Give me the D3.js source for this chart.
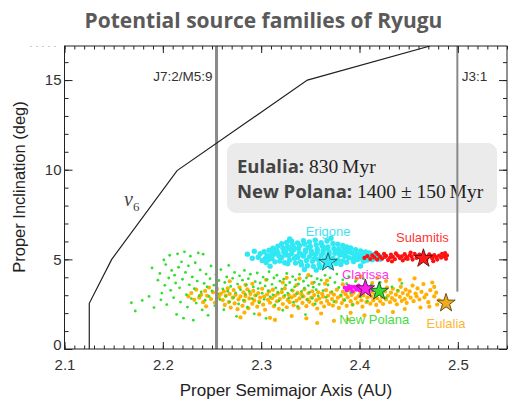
<!DOCTYPE html>
<html>
<head>
<meta charset="utf-8">
<script src="https://cdn.jsdelivr.net/npm/d3@7"></script>
<style>
  body { margin: 0; background: #fff; }
  svg { display: block; }
  .axis path { display: none; }
  .axis line { stroke: #222; }
  .axis text { font-family: "Liberation Sans", Arial, sans-serif; font-size: 15px; fill: #333; }
  .lbl { font-family: "Liberation Sans", Arial, sans-serif; font-size: 13px; text-anchor: middle; }
</style>
</head>
<body>
<div id="chart"></div>
<script>
/* canvas size */
var width = 525,
    height = 400;

/* axis ticks */
var xTicks = [2.1, 2.2, 2.3, 2.4, 2.5];
var yTicks = [0, 5, 10, 15];

/* secular resonance nu6 (a, i) */
var nu6 = [[2.1252, 0], [2.1252, 2.55], [2.148, 5.0], [2.2145, 9.95], [2.347, 15.0], [2.4718, 16.9]];

/* mean motion resonances */
var j72 = 2.2546;
var j31 = 2.4995, j31Bottom = 3.2;

/* family members, [a (AU), i (deg)] */
var erigone = [[2.297,5.12],[2.299,5.31],[2.301,4.93],[2.303,5.42],[2.304,5.03],[2.306,5.22],[2.305,4.82],[2.308,5.51],[2.309,5.16],[2.307,4.97],[2.311,5.37],[2.312,5.62],[2.313,5.28],[2.311,5.04],[2.314,4.86],[2.316,5.47],[2.317,5.74],[2.315,5.52],[2.318,5.19],[2.319,4.91],[2.317,5.36],[2.320,5.07],[2.321,5.88],[2.322,5.63],[2.323,5.41],[2.321,5.12],[2.324,4.81],[2.325,5.26],[2.326,5.94],[2.327,5.71],[2.325,5.47],[2.328,5.21],[2.329,4.96],[2.327,4.76],[2.330,5.57],[2.331,6.01],[2.332,5.81],[2.333,5.54],[2.331,5.31],[2.334,5.06],[2.335,4.79],[2.333,5.66],[2.336,5.16],[2.337,5.92],[2.338,5.61],[2.339,5.36],[2.337,5.11],[2.340,4.86],[2.341,4.69],[2.339,5.77],[2.342,5.24],[2.343,6.04],[2.344,5.86],[2.345,5.51],[2.343,5.19],[2.346,4.94],[2.347,4.64],[2.345,5.41],[2.348,5.67],[2.349,5.97],[2.350,5.72],[2.351,5.46],[2.349,5.14],[2.352,4.89],[2.353,4.61],[2.351,5.31],[2.354,5.04],[2.355,6.07],[2.356,5.81],[2.357,5.56],[2.355,5.26],[2.358,4.99],[2.359,4.71],[2.357,5.41],[2.360,4.56],[2.361,5.93],[2.362,5.76],[2.363,5.49],[2.361,5.21],[2.364,4.96],[2.365,4.66],[2.363,5.36],[2.366,5.63],[2.367,6.02],[2.368,5.69],[2.369,5.43],[2.367,5.13],[2.370,4.86],[2.371,4.58],[2.369,5.29],[2.372,5.01],[2.373,5.89],[2.374,5.61],[2.375,5.34],[2.373,5.07],[2.376,4.77],[2.377,5.47],[2.378,5.84],[2.379,5.56],[2.380,5.24],[2.378,4.97],[2.381,4.72],[2.382,5.39],[2.383,5.77],[2.384,5.51],[2.385,5.17],[2.383,4.91],[2.386,5.31],[2.387,5.69],[2.388,5.44],[2.389,5.09],[2.387,4.84],[2.390,5.57],[2.391,5.63],[2.392,5.36],[2.393,5.03],[2.394,4.88],[2.395,5.21],[2.396,5.54],[2.397,5.29],[2.398,4.99],[2.399,5.14],[2.401,5.47],[2.402,5.23],[2.403,5.04],[2.404,4.89],[2.406,5.41],[2.407,5.18],[2.408,4.96],[2.410,5.36],[2.411,5.12],[2.413,4.98],[2.415,5.28],[2.416,5.07],[2.419,5.22],[2.421,5.01],[2.424,5.16],[2.286,5.29],[2.291,5.06],[2.309,4.62],[2.329,6.14],[2.371,6.18],[2.344,4.43],[2.401,4.63],[2.293,5.45],[2.356,4.41]];

var sulamitis = [[2.405,5.08],[2.408,5.18],[2.411,5.02],[2.413,5.22],[2.415,5.11],[2.418,4.98],[2.419,5.27],[2.421,5.14],[2.423,5.04],[2.425,5.31],[2.427,5.19],[2.429,4.96],[2.431,5.09],[2.432,5.26],[2.434,5.14],[2.436,5.01],[2.437,5.33],[2.439,5.21],[2.441,5.07],[2.443,5.17],[2.444,4.94],[2.446,5.29],[2.448,5.12],[2.449,5.02],[2.451,5.23],[2.453,5.15],[2.454,4.99],[2.456,5.31],[2.458,5.08],[2.459,5.19],[2.461,5.26],[2.463,5.04],[2.464,5.14],[2.466,5.21],[2.468,4.97],[2.469,5.11],[2.471,5.28],[2.473,5.18],[2.474,5.05],[2.476,5.24],[2.478,5.12],[2.479,4.99],[2.481,5.21],[2.483,5.09],[2.484,5.31],[2.486,5.16],[2.488,5.03],[2.489,5.22],[2.417,5.38],[2.433,4.88],[2.452,5.38],[2.475,4.9],[2.487,5.35],[2.426,5.14],[2.447,5.06],[2.467,5.16]];

var clarissa = [[2.385,3.42],[2.387,3.28],[2.389,3.51],[2.391,3.36],[2.393,3.22],[2.395,3.46],[2.397,3.31],[2.399,3.53],[2.401,3.39],[2.403,3.25],[2.405,3.48],[2.407,3.34],[2.409,3.21],[2.411,3.44],[2.413,3.3],[2.388,3.39],[2.396,3.4],[2.404,3.37],[2.392,3.47],[2.4,3.27]];

var eulalia = [[2.226,2.93],[2.229,3.12],[2.232,2.74],[2.234,3.31],[2.237,2.86],[2.239,3.02],[2.241,2.61],[2.243,3.24],[2.245,2.97],[2.247,3.43],[2.249,2.79],[2.251,3.16],[2.253,2.58],[2.255,3.35],[2.257,2.91],[2.259,3.08],[2.244,2.38],
  [2.261,2.73],[2.262,3.21],[2.263,2.46],[2.264,2.98],[2.266,3.38],[2.267,2.62],[2.268,3.07],[2.269,2.31],
  [2.271,2.86],[2.272,3.29],[2.273,2.54],[2.274,3.02],[2.276,2.22],[2.277,2.77],[2.278,3.44],[2.279,2.93],
  [2.281,2.41],[2.282,3.16],[2.283,2.68],[2.284,2.95],[2.286,3.33],[2.287,2.27],[2.288,2.82],[2.289,3.07],
  [2.291,2.53],[2.292,3.24],[2.293,2.71],[2.294,2.99],[2.296,2.36],[2.297,3.12],[2.298,2.64],[2.299,2.87],
  [2.301,3.36],[2.302,2.47],[2.303,2.92],[2.304,2.19],[2.306,3.04],[2.307,2.74],[2.308,3.21],[2.309,2.58],
  [2.311,2.83],[2.312,3.31],[2.313,2.38],[2.314,2.97],[2.316,2.66],[2.317,3.09],[2.318,2.24],[2.319,2.79],
  [2.321,3.17],[2.322,2.51],[2.323,2.91],[2.324,3.38],[2.326,2.33],[2.327,2.73],[2.328,3.02],[2.329,2.61],
  [2.331,2.88],[2.332,3.26],[2.333,2.44],[2.334,2.99],[2.336,2.69],[2.337,3.13],[2.338,2.28],[2.339,2.82],
  [2.341,3.06],[2.342,2.57],[2.343,2.93],[2.344,3.33],[2.346,2.39],[2.347,2.76],[2.348,3.11],[2.349,2.63],
  [2.351,2.87],[2.352,3.22],[2.353,2.48],[2.354,3.01],[2.356,2.71],[2.357,2.26],[2.358,3.16],[2.359,2.81],
  [2.361,2.58],[2.362,3.07],[2.363,2.92],[2.364,2.37],[2.366,3.28],[2.367,2.68],[2.368,2.97],[2.369,2.51],
  [2.371,3.14],[2.372,2.79],[2.373,2.42],[2.374,3.03],[2.376,2.64],[2.377,3.31],[2.378,2.86],[2.379,2.29],
  [2.381,2.96],[2.382,2.56],[2.383,3.19],[2.384,2.74],[2.386,3.06],[2.387,2.41],[2.388,2.89],[2.389,3.27],
  [2.391,2.67],[2.392,3.01],[2.393,2.47],[2.394,3.14],[2.396,2.81],[2.397,3.36],[2.398,2.58],[2.399,2.94],
  [2.401,3.09],[2.402,2.72],[2.403,2.36],[2.404,2.99],[2.406,3.23],[2.407,2.62],[2.408,2.86],[2.409,3.11],
  [2.411,2.53],[2.412,2.93],[2.413,3.18],[2.414,2.71],[2.416,3.04],[2.417,2.46],[2.418,2.83],[2.419,3.29],
  [2.421,2.66],[2.422,3.07],[2.423,2.89],[2.424,2.51],[2.426,3.21],[2.427,2.76],[2.428,3.42],[2.429,2.97],
  [2.431,2.61],[2.432,3.14],[2.433,2.84],[2.434,3.36],[2.436,2.72],[2.437,3.03],[2.438,2.49],[2.439,3.24],
  [2.441,2.91],[2.442,3.47],[2.443,2.68],[2.444,3.12],[2.446,2.79],[2.447,3.31],[2.448,2.57],[2.449,3.02],
  [2.451,3.21],[2.452,2.86],[2.454,3.54],[2.455,2.67],[2.457,3.09],[2.458,2.94],[2.459,3.38],
  [2.461,2.76],[2.463,3.19],[2.465,3.62],[2.466,2.88],[2.468,3.04],[2.470,2.61],[2.472,3.28],[2.474,3.71],[2.476,2.93],[2.478,3.14],[2.481,2.72],
  [2.268,3.78],[2.279,1.76],[2.291,3.64],[2.298,1.93],[2.305,3.86],[2.314,1.62],[2.322,3.71],[2.331,1.84],[2.339,3.93],[2.346,1.71],[2.352,3.67],[2.361,1.98],[2.367,3.82],[2.374,1.57],[2.383,3.61],[2.391,2.02],[2.397,3.91],[2.405,1.88],[2.413,3.68],[2.419,2.11],[2.427,3.79],[2.434,2.06],[2.441,3.86],[2.446,2.23],[2.456,3.94],[2.462,2.31],[2.471,2.36],[2.476,3.46],[2.479,2.48],[2.284,3.58],[2.309,1.74],[2.326,3.97],[2.357,1.45],[2.388,1.66],[2.418,3.96],[2.348,4.12],[2.402,4.05],[2.283,2.03],[2.336,3.57],[2.365,3.64]];

var newPolana = [[2.168,2.58],[2.172,2.12],[2.179,2.71],[2.186,2.93],[2.189,4.52],[2.191,2.31],[2.195,3.84],[2.197,4.21],[2.198,2.74],[2.199,3.12],[2.201,4.97],[2.202,3.55],[2.203,4.71],[2.204,2.48],[2.206,3.96],[2.207,5.23],[2.208,3.27],[2.209,4.38],[2.211,2.86],[2.212,4.12],[2.213,3.68],[2.214,1.93],[2.215,5.31],[2.216,4.56],[2.217,3.41],[2.218,2.62],[2.219,4.86],[2.220,3.89],[2.221,1.72],[2.222,5.42],[2.223,4.27],[2.224,3.03],[2.225,2.34],[2.226,4.64],[2.227,3.58],[2.228,5.18],[2.229,2.81],[2.230,4.02],[2.231,1.61],[2.232,3.36],[2.233,4.81],[2.234,2.56],[2.235,3.79],[2.236,5.36],[2.237,2.97],[2.238,4.41],[2.239,3.18],[2.240,2.18],[2.241,5.29],[2.242,3.66],[2.243,2.72],[2.244,4.18],[2.245,3.47],[2.246,1.88],[2.247,2.93],[2.248,3.92],[2.249,4.63],[2.250,3.24],
  [2.252,3.56],[2.253,2.41],[2.254,4.15],[2.256,3.08],[2.257,3.82],[2.258,2.76],[2.259,4.43],[2.261,3.35],[2.262,2.19],[2.263,3.71],[2.264,2.94],[2.265,4.02],[2.266,3.22],[2.267,4.66],[2.268,2.63],[2.269,3.49],[2.271,3.94],[2.272,2.87],[2.273,4.27],[2.274,3.13],[2.275,1.82],[2.276,3.62],[2.277,2.51],[2.278,4.08],[2.279,3.31],[2.281,3.84],[2.282,2.72],[2.283,4.38],[2.284,3.05],[2.285,3.57],[2.286,2.33],[2.287,3.92],[2.288,3.21],[2.289,4.17],[2.291,2.81],[2.292,3.46],[2.293,1.96],[2.294,3.76],[2.295,2.98],[2.296,4.24],[2.297,3.37],[2.298,2.58],[2.299,3.68],[2.301,3.11],[2.302,4.01],[2.303,2.77],[2.304,3.52],[2.305,1.71],[2.306,3.87],[2.307,3.24],[2.308,4.31],[2.309,2.91],[2.311,3.61],[2.312,3.02],[2.313,3.96],[2.314,2.46],[2.315,3.41],[2.316,4.12],[2.317,3.17],[2.318,2.68],[2.319,3.79],[2.321,3.34],[2.322,2.16],[2.323,3.89],[2.324,2.99],[2.325,3.56],[2.326,4.21],[2.327,3.12],[2.328,2.84],[2.329,3.71],[2.331,3.28],[2.332,4.04],[2.333,2.61],[2.334,3.47],[2.335,3.86],[2.336,3.08],[2.337,2.37],[2.338,3.63],[2.339,4.16],[2.341,3.21],[2.342,2.92],[2.343,3.78],[2.344,3.39],[2.345,1.92],[2.346,3.97],[2.347,2.74],[2.348,3.54],[2.349,3.16],[2.351,4.07],[2.352,2.83],[2.353,3.45],[2.354,3.72],[2.355,2.51],[2.356,3.31],[2.357,3.92],[2.358,2.96],[2.359,3.61],
  [2.361,3.84],[2.363,3.26],[2.365,4.11],[2.366,2.88],[2.368,3.57],[2.370,3.97],[2.372,3.19],[2.374,2.64],[2.375,3.71],[2.377,4.18],[2.379,3.43],[2.381,3.01],[2.383,3.86],[2.385,2.72],[2.387,3.64],[2.389,4.03],[2.391,3.13],[2.393,2.47],[2.396,3.77],[2.398,3.36],[2.401,2.91],[2.404,3.92],[2.408,2.66],[2.412,3.58],[2.416,3.03],[2.421,3.71],[2.427,2.86],[2.433,3.46],[2.439,3.27],[2.443,3.66]];

/* parent bodies (stars) and family labels */
var parents = [
  { name: "Erigone",    a: 2.368, i: 4.83, fill: "#33e6f2", stroke: "#1b5e63" },
  { name: "Sulamitis",  a: 2.465, i: 5.05, fill: "#ff1a1a", stroke: "#5a1010" },
  { name: "Clarissa",   a: 2.406, i: 3.36, fill: "#ff22ee", stroke: "#5a1050" },
  { name: "New Polana", a: 2.420, i: 3.22, fill: "#33dd33", stroke: "#1d4d1d" },
  { name: "Eulalia",    a: 2.488, i: 2.56, fill: "#f0aa1e", stroke: "#5a4210" }
];
var labels = [
  { text: "Erigone",    a: 2.368, i: 6.28, color: "#3ee2f0" },
  { text: "Sulamitis",  a: 2.464, i: 5.98, color: "#ff3535" },
  { text: "Clarissa",   a: 2.406, i: 3.92, color: "#ff33ee" },
  { text: "New Polana", a: 2.415, i: 1.38, color: "#44dd44" },
  { text: "Eulalia",    a: 2.488, i: 1.17, color: "#ffb533" }
];

/* scales */
var x = d3.scaleLinear().domain([2.1, 2.55]).range([64.5, 507]);
var y = d3.scaleLinear().domain([0, 16.9]).range([349, 46]);

var svg = d3.select("#chart")
    .append("svg")
    .attr("width", width)
    .attr("height", height);

/* clip to plot area */
svg.append("clipPath").attr("id", "plot")
    .append("rect")
    .attr("x", x(2.1)).attr("y", y(16.9))
    .attr("width", x(2.55) - x(2.1)).attr("height", y(0) - y(16.9));

/* title */
svg.append("text")
    .attr("x", 263.5).attr("y", 28)
    .attr("text-anchor", "middle")
    .style("font-family", "'Open Sans', sans-serif")
    .style("font-weight", "bold")
    .style("font-size", "21px")
    .style("fill", "#5a5a5a")
    .text("Potential source families of Ryugu");

/* faint dashes at top left */
svg.append("line")
    .attr("x1", 30).attr("x2", 56).attr("y1", 46.5).attr("y2", 46.5)
    .attr("stroke", "#ccc").attr("stroke-dasharray", "2,4");

var plot = svg.append("g").attr("clip-path", "url(#plot)");

/* scatter of family members */
function dots(data, color, r) {
    plot.append("g").selectAll("circle")
        .data(data)
        .enter().append("circle")
        .attr("cx", function (d) { return x(d[0]); })
        .attr("cy", function (d) { return y(d[1]); })
        .attr("r", r)
        .attr("fill", color);
}
dots(eulalia, "#ffb000", 2.1);
dots(newPolana, "#2fe02f", 1.4);
dots(erigone, "#2fe8f4", 2.7);
dots(sulamitis, "#ff1010", 2.1);
dots(clarissa, "#ff10f0", 2.1);

/* J7:2/M5:9 */
plot.append("line")
    .attr("x1", x(j72)).attr("x2", x(j72))
    .attr("y1", y(16.9)).attr("y2", y(0))
    .attr("stroke", "#8a8a8a").attr("stroke-width", 3);

/* nu6 */
var line = d3.line()
    .x(function (d) { return x(d[0]); })
    .y(function (d) { return y(d[1]); });
plot.append("path")
    .attr("d", line(nu6))
    .attr("fill", "none")
    .attr("stroke", "#222")
    .attr("stroke-width", 1.2);

/* parent stars */
var star = d3.symbol().type(d3.symbolStar).size(105);
plot.selectAll(".star")
    .data(parents)
    .enter().append("path")
    .attr("class", "star")
    .attr("d", star)
    .attr("transform", function (d) { return "translate(" + x(d.a) + "," + y(d.i) + ")"; })
    .attr("fill", function (d) { return d.fill; })
    .attr("stroke", function (d) { return d.stroke; })
    .attr("stroke-width", 0.9);

/* family labels */
svg.selectAll(".lbl")
    .data(labels)
    .enter().append("text")
    .attr("class", "lbl")
    .attr("x", function (d) { return x(d.a); })
    .attr("y", function (d) { return y(d.i); })
    .style("fill", function (d) { return d.color; })
    .text(function (d) { return d.text; });

/* resonance labels */
svg.append("text")
    .attr("x", x(j72) - 4).attr("y", 81)
    .attr("text-anchor", "end")
    .style("font-family", "'Liberation Sans', Arial, sans-serif")
    .style("font-size", "13.5px").style("fill", "#333")
    .text("J7:2/M5:9");
svg.append("text")
    .attr("x", x(j31) + 4.5).attr("y", 81)
    .style("font-family", "'Liberation Sans', Arial, sans-serif")
    .style("font-size", "13.5px").style("fill", "#333")
    .text("J3:1");

var nuLabel = svg.append("text")
    .attr("x", 124).attr("y", 206)
    .style("font-family", "'Liberation Serif', 'DejaVu Serif', serif")
    .style("fill", "#444");
nuLabel.append("tspan").style("font-style", "italic").style("font-size", "20px").text("\u03bd");
nuLabel.append("tspan").attr("dy", 5).style("font-size", "13px").text("6");

/* age box */
svg.append("rect")
    .attr("x", 227).attr("y", 143)
    .attr("width", 270).attr("height", 70)
    .attr("rx", 9)
    .attr("fill", "#ebebeb");

var ages = [["Eulalia:", " 830\u2009Myr", 173], ["New Polana:", " 1400 \u00b1 150\u2009Myr", 198]];
ages.forEach(function (row) {
    var t = svg.append("text").attr("x", 237).attr("y", row[2]);
    t.append("tspan")
        .style("font-family", "'Open Sans', sans-serif")
        .style("font-weight", "bold").style("font-size", "18.5px").style("fill", "#444")
        .text(row[0]);
    t.append("tspan")
        .style("font-family", "'Liberation Serif', 'DejaVu Serif', serif")
        .style("font-size", "19.5px").style("fill", "#222")
        .text(row[1]);
});

/* J3:1 (drawn over the box) */
svg.append("line")
    .attr("x1", x(j31)).attr("x2", x(j31))
    .attr("y1", y(16.9)).attr("y2", y(j31Bottom))
    .attr("stroke", "#8a8a8a").attr("stroke-width", 2);

/* axes: ticks inward on all four sides */
var xMinor = d3.range(2.1, 2.5501, 0.01);
var yMinor = d3.range(0, 17, 1);

svg.append("g").attr("class", "axis")
    .attr("transform", "translate(0," + y(0) + ")")
    .call(d3.axisBottom(x).tickValues(xMinor).tickSize(-3.5).tickFormat(""));
svg.append("g").attr("class", "axis")
    .attr("transform", "translate(0," + y(0) + ")")
    .call(d3.axisBottom(x).tickValues(xTicks).tickSize(-7).tickPadding(10).tickFormat(d3.format(".1f")));
svg.append("g").attr("class", "axis")
    .attr("transform", "translate(0," + y(16.9) + ")")
    .call(d3.axisTop(x).tickValues(xMinor).tickSize(-3.5).tickFormat(""));
svg.append("g").attr("class", "axis")
    .attr("transform", "translate(0," + y(16.9) + ")")
    .call(d3.axisTop(x).tickValues(xTicks).tickSize(-7).tickFormat(""));

svg.append("g").attr("class", "axis")
    .attr("transform", "translate(" + x(2.1) + ",0)")
    .call(d3.axisLeft(y).tickValues(yMinor).tickSize(-4).tickFormat(""));
var yAxis = svg.append("g").attr("class", "axis")
    .attr("transform", "translate(" + x(2.1) + ",0)")
    .call(d3.axisLeft(y).tickValues(yTicks).tickSize(-8).tickPadding(3));
yAxis.selectAll("text").filter(function (d) { return d === 0; }).attr("dy", "0");
svg.append("g").attr("class", "axis")
    .attr("transform", "translate(" + x(2.55) + ",0)")
    .call(d3.axisRight(y).tickValues(yMinor).tickSize(-4).tickFormat(""));
svg.append("g").attr("class", "axis")
    .attr("transform", "translate(" + x(2.55) + ",0)")
    .call(d3.axisRight(y).tickValues(yTicks).tickSize(-8).tickFormat(""));

/* frame */
svg.append("rect")
    .attr("x", x(2.1)).attr("y", y(16.9))
    .attr("width", x(2.55) - x(2.1)).attr("height", y(0) - y(16.9))
    .attr("fill", "none").attr("stroke", "#222");

/* axis titles */
svg.append("text")
    .attr("x", 286).attr("y", 396)
    .attr("text-anchor", "middle")
    .style("font-family", "'Liberation Sans', Arial, sans-serif")
    .style("font-size", "17px").style("fill", "#222")
    .text("Proper Semimajor Axis (AU)");
svg.append("text")
    .attr("transform", "translate(25,187) rotate(-90)")
    .attr("text-anchor", "middle")
    .style("font-family", "'Liberation Sans', Arial, sans-serif")
    .style("font-size", "16.5px").style("fill", "#222")
    .text("Proper Inclination (deg)");
</script>
</body>
</html>
